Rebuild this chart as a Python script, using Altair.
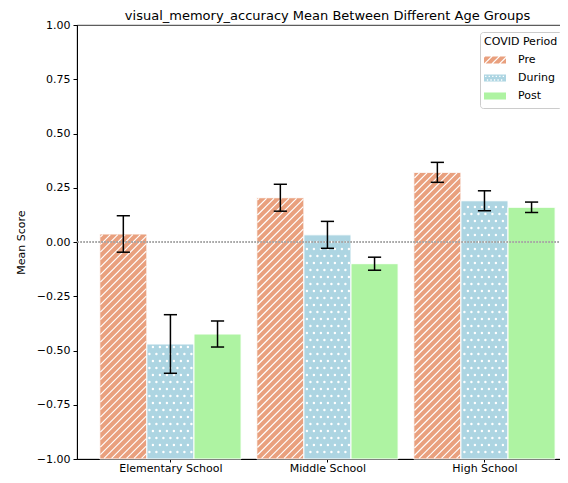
import altair as alt
import pandas as pd
import numpy as np

groups = ["Elementary School", "Middle School", "High School"]
periods = ["Pre", "During", "Post"]
colors = ["#E9A07E", "#ADD5E2", "#AEF3A2"]

pre_mean = [0.037, 0.204, 0.321]
pre_err = [0.084, 0.062, 0.046]
during_mean = [-0.470, 0.033, 0.190]
during_err = [0.135, 0.062, 0.046]
post_mean = [-0.424, -0.100, 0.160]
post_err = [0.060, 0.030, 0.024]

means = {"Pre": pre_mean, "During": during_mean, "Post": post_mean}
errs = {"Pre": pre_err, "During": during_err, "Post": post_err}

W, H = 491, 434
YMIN, YMAX = -1.0, 1.0
XMIN, XMAX = -0.595, 2.532
PX_X = W / (XMAX - XMIN)
PX_Y = H / (YMAX - YMIN)
BAR_W = 0.3
CAP = 0.042

rows = []
for gi, g in enumerate(groups):
    for pj, p in enumerate(periods):
        c = gi + (pj - 1) * BAR_W
        m = means[p][gi]
        e = errs[p][gi]
        rows.append(dict(group=g, period=p, center=c, x0=c - BAR_W / 2, x1=c + BAR_W / 2,
                         base=YMIN, mean=m, mid=(YMIN + m) / 2, lo=m - e, hi=m + e,
                         c0=c - CAP, c1=c + CAP))
df = pd.DataFrame(rows)

# hatch lines ("//") for Pre bars, computed in pixel space then mapped back to data units
hatch = []
S = 7.5
for r in df[df.period == "Pre"].itertuples():
    X0, X1 = r.x0 * PX_X + 0.6, r.x1 * PX_X - 0.6
    Y0, Y1 = r.base * PX_Y + 0.6, r.mean * PX_Y - 0.6
    kmin = int(np.floor((Y0 - X1) / S)) - 1
    kmax = int(np.ceil((Y1 - X0) / S)) + 1
    for k in range(kmin, kmax + 1):
        cc = k * S
        xa = max(X0, Y0 - cc)
        xb = min(X1, Y1 - cc)
        if xb - xa > 0.3:
            hatch.append(dict(hx=xa / PX_X, hy=(xa + cc) / PX_Y, hx2=xb / PX_X, hy2=(xb + cc) / PX_Y))
hatch_df = pd.DataFrame(hatch)

# dots (".") for During bars
dots = []
SD = 7.0
for r in df[df.period == "During"].itertuples():
    X0, X1 = r.x0 * PX_X + 1.5, r.x1 * PX_X - 1.5
    Y0, Y1 = r.base * PX_Y + 1.5, r.mean * PX_Y - 1.5
    for j in range(int(np.floor(Y0 / SD)) - 1, int(np.ceil(Y1 / SD)) + 2):
        yy = j * SD
        if yy < Y0 or yy > Y1:
            continue
        off = SD / 2 if j % 2 else 0.0
        for i in range(int(np.floor(X0 / SD)) - 1, int(np.ceil(X1 / SD)) + 2):
            xx = i * SD + off
            if X0 <= xx <= X1:
                dots.append(dict(dx=xx / PX_X, dy=yy / PX_Y))
dots_df = pd.DataFrame(dots)


# legend swatch paths (unit coords; x in [-1,1], 1 unit = 11 px); patterns are holes
def clip_half(poly, f):
    out = []
    n = len(poly)
    for i in range(n):
        P, Q = poly[i], poly[(i + 1) % n]
        fp, fq = f(P), f(Q)
        if fp >= 0:
            out.append(P)
        if fp * fq < 0:
            t = fp / (fp - fq)
            out.append((P[0] + t * (Q[0] - P[0]), P[1] + t * (Q[1] - P[1])))
    return out


def poly_path(poly):
    return "M" + "L".join(f"{x:.3f},{y:.3f}" for x, y in poly) + "Z"


HH = 0.32
rect_poly = [(-1, -HH), (1, -HH), (1, HH), (-1, HH)]
rect = poly_path(rect_poly)

hatch_path = rect
for c in np.arange(-2.04, 2.1, 0.68):
    band = clip_half(rect_poly, lambda p, c=c: p[0] + p[1] - c)
    band = clip_half(band, lambda p, c=c: c + 0.15 - p[0] - p[1])
    if len(band) >= 3:
        hatch_path += " " + poly_path(band[::-1])

dot_path = rect
for yy in (-0.2, 0.12):
    for xx in np.arange(-0.9, 0.85, 0.32):
        xo = xx + (0.16 if yy > 0 else 0)
        if xo < 0.85:
            dot_path += f" M{xo:.3f},{yy:.3f}v0.12h0.12v-0.12Z"
shapes = [hatch_path, dot_path, rect]

xscale = alt.Scale(domain=[XMIN, XMAX], nice=False, zero=False)
yscale = alt.Scale(domain=[YMIN, YMAX], nice=False, zero=False)
label_expr = " : ".join(f"datum.value == {i} ? '{g}'" for i, g in enumerate(groups)) + " : ''"

xaxis = alt.Axis(values=[0, 1, 2], labelExpr=label_expr, title=None, grid=False,
                 tickSize=3, labelPadding=0, labelFontSize=11, labelColor="black",
                 domainColor="black", tickColor="black", labelFont="DejaVu Sans")
yaxis = alt.Axis(values=[-1, -0.75, -0.5, -0.25, 0, 0.25, 0.5, 0.75, 1], format=".2f",
                 title="Mean Score", grid=False, tickSize=4, labelPadding=3,
                 labelFontSize=11, labelColor="black", domainColor="black", tickColor="black",
                 titleFontSize=11, titleFontWeight="normal", titleColor="black",
                 titleFont="DejaVu Sans", labelFont="DejaVu Sans", titlePadding=10)

base = alt.Chart(df)

legend = alt.Legend(title="COVID Period", orient="none", legendX=403, legendY=7,
                    fillColor="white", strokeColor="#cccccc", cornerRadius=3, padding=4,
                    titleFontSize=11, titleFontWeight="normal", titleColor="black",
                    titleFont="DejaVu Sans", labelFont="DejaVu Sans", labelFontSize=11,
                    labelColor="black", symbolSize=484, symbolOpacity=1,
                    symbolStrokeWidth=0, clipHeight=16,
                    rowPadding=2, titlePadding=5, labelOffset=12)

# points hidden beneath the bars, used only to carry the legend (colour + swatch pattern)
legend_pts = base.mark_point(filled=True, size=4).encode(
    x=alt.X("center:Q", scale=xscale, axis=xaxis),
    y=alt.Y("mid:Q", scale=yscale, axis=yaxis),
    color=alt.Color("period:N", scale=alt.Scale(domain=periods, range=colors), legend=legend),
    shape=alt.Shape("period:N", scale=alt.Scale(domain=periods, range=shapes), legend=legend),
)

bars = base.mark_rect(stroke="white", strokeWidth=1).encode(
    x=alt.X("x0:Q", scale=xscale), x2="x1:Q",
    y=alt.Y("base:Q", scale=yscale), y2="mean:Q",
    fill=alt.Fill("period:N", scale=alt.Scale(domain=periods, range=colors), legend=None),
)

hatch_layer = alt.Chart(hatch_df).mark_rule(color="white", strokeWidth=1.2).encode(
    x=alt.X("hx:Q", scale=xscale), x2="hx2:Q",
    y=alt.Y("hy:Q", scale=yscale), y2="hy2:Q",
)

dots_layer = alt.Chart(dots_df).mark_circle(color="white", opacity=1, size=6).encode(
    x=alt.X("dx:Q", scale=xscale), y=alt.Y("dy:Q", scale=yscale),
)

zero = alt.Chart(df).mark_rule(color="#aaaaaa", strokeWidth=0.6, strokeDash=[1.5, 1.5]).encode(
    y=alt.datum(0)
)

err = base.mark_rule(color="black", strokeWidth=1.5).encode(
    x=alt.X("center:Q", scale=xscale), y=alt.Y("lo:Q", scale=yscale), y2="hi:Q"
)
cap_lo = base.mark_rule(color="black", strokeWidth=1.5).encode(
    x=alt.X("c0:Q", scale=xscale), x2="c1:Q", y=alt.Y("lo:Q", scale=yscale)
)
cap_hi = base.mark_rule(color="black", strokeWidth=1.5).encode(
    x=alt.X("c0:Q", scale=xscale), x2="c1:Q", y=alt.Y("hi:Q", scale=yscale)
)

chart = alt.layer(legend_pts, bars, hatch_layer, dots_layer, zero, err, cap_lo, cap_hi).properties(
    width=W, height=H,
    title=alt.TitleParams("visual_memory_accuracy Mean Between Different Age Groups",
                          fontSize=13, fontWeight="normal", font="DejaVu Sans", color="black",
                          offset=-4, dx=5),
    autosize=alt.AutoSizeParams(type="none"),
    padding={"left": 69, "top": 17, "right": -8, "bottom": 16},
).configure_view(stroke="black", strokeWidth=0.8)

chart.save("out.html", embed_options={"renderer": "svg", "actions": False})
